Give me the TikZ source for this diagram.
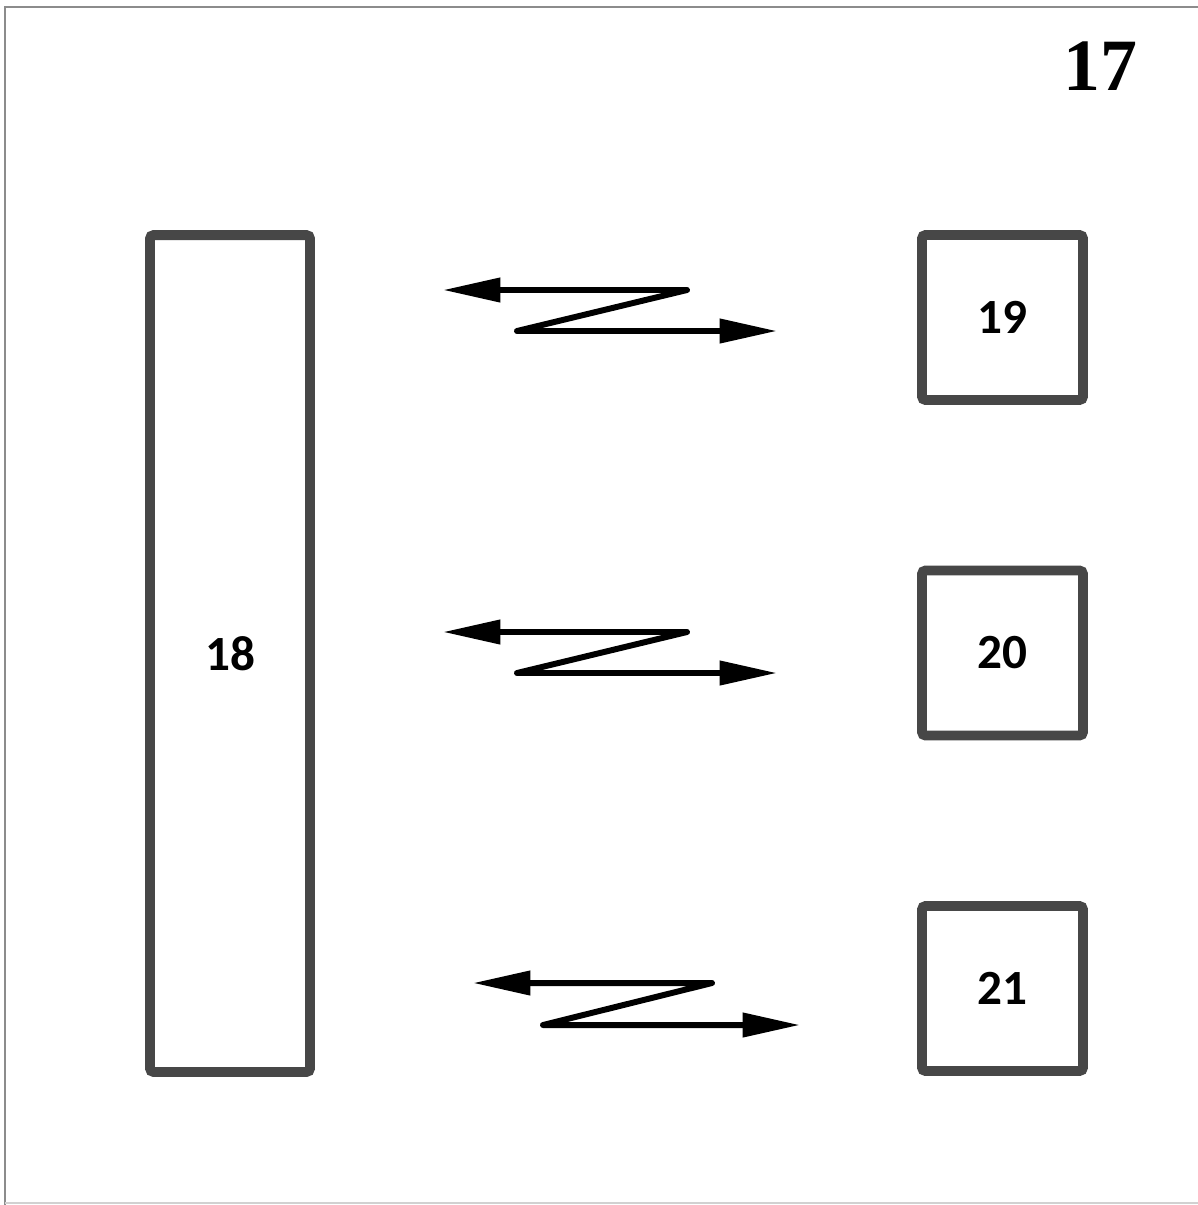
\documentclass[tikz,border=0pt]{standalone}
\usepackage{fontspec}
\setmainfont{Carlito}
\newfontfamily\figfont{Liberation Serif}
\usepackage{xcolor}
\usetikzlibrary{arrows.meta,positioning}

\definecolor{boxgray}{HTML}{474747}
\definecolor{framegray}{HTML}{8C8C8C}

\begin{document}
\begin{tikzpicture}[
    x=0.02cm, y=-0.02cm,
    unit/.style={rectangle, draw=boxgray, line width=5.6pt, rounded corners=2pt,
        fill=white, font=\fontsize{28}{30}\selectfont\bfseries},
    link/.style={line width=3.4pt, line join=round, line cap=round,
        {Triangle[length=1.15cm,width=0.47cm]}-{Triangle[length=1.15cm,width=0.47cm]}}
]
    \useasboundingbox (0,0) rectangle (1198,1205);

    % Frame
    \draw[framegray, line width=1.2pt] (1198,7) -- (5,7) -- (5,1205);
    \draw[framegray!40, line width=1pt] (5,1203) -- (1198,1203);

    % Figure number
    \node[font=\figfont\fontsize{42}{44}\selectfont\bfseries] (fig) at (1100,66) {17};

    % Station
    \node[unit, minimum width=3.2cm, minimum height=16.74cm] (station) at (230,653.5) {18};

    % Terminals
    \node[unit, minimum width=3.22cm, minimum height=3.3cm] (termA) at (1002.5,317.5) {19};
    \node[unit, minimum width=3.22cm, minimum height=3.3cm] (termB) at (1002.5,653) {20};
    \node[unit, minimum width=3.22cm, minimum height=3.3cm] (termC) at (1002.5,988.5) {21};

    % Radio links
    \coordinate (linkAl) at (443,290);
    \coordinate (linkAt) at (687,290);
    \coordinate (linkAb) at (517,331);
    \coordinate (linkAr) at (777,331);

    \coordinate (linkBl) at (443,632);
    \coordinate (linkBt) at (687,632);
    \coordinate (linkBb) at (517,673);
    \coordinate (linkBr) at (777,673);

    \coordinate (linkCl) at (473,983);
    \coordinate (linkCt) at (712,983);
    \coordinate (linkCb) at (543,1025);
    \coordinate (linkCr) at (800,1025);

    \draw[link] (linkAl) -- (linkAt) -- (linkAb) -- (linkAr);
    \draw[link] (linkBl) -- (linkBt) -- (linkBb) -- (linkBr);
    \draw[link] (linkCl) -- (linkCt) -- (linkCb) -- (linkCr);
\end{tikzpicture}
\end{document}
